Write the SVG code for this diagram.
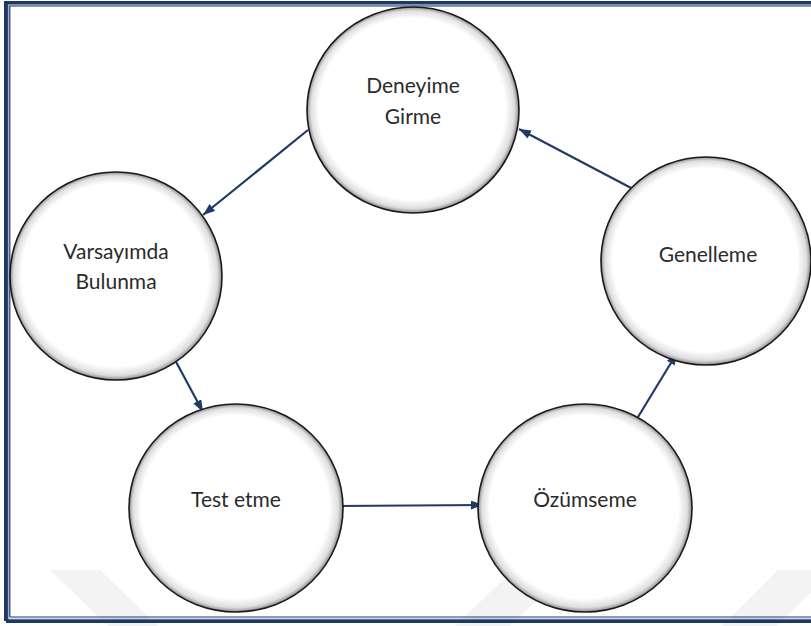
<svg xmlns="http://www.w3.org/2000/svg" width="811" height="626" viewBox="0 0 811 626">
  <style>
    .node ellipse { fill: url(#shade); stroke: #1a1a1a; stroke-width: 1.6; }
    .node text { font-family: Lato, "Open Sans", "Liberation Sans", sans-serif; font-size: 21px; fill: #2b2b2b; text-anchor: middle; }
    .conn line { stroke: #203a68; stroke-width: 2.2; fill: none; marker-end: url(#arrow); }
    .wm { fill: #f3f3f3; }
  </style>
  <defs>
    <radialGradient id="shade" cx="50%" cy="50%" r="50%" fx="46%" fy="45%">
      <stop offset="0" stop-color="#ffffff"/>
      <stop offset="0.88" stop-color="#ffffff"/>
      <stop offset="0.96" stop-color="#dedede"/>
      <stop offset="1" stop-color="#8c8c8c"/>
    </radialGradient>
    <marker id="arrow" markerUnits="userSpaceOnUse" markerWidth="13" markerHeight="10" refX="12" refY="4.5" orient="auto">
      <path d="M0,0 L12,4.5 L0,9 z" fill="#203a68"/>
    </marker>
  </defs>
  <rect width="811" height="626" fill="#ffffff"/>
  <g id="watermark">
    <polygon class="wm" points="50,570 100,570 158,626 108,626"/>
    <polygon class="wm" points="455,626 510,626 568,570 513,570"/>
    <polygon class="wm" points="722,626 777,626 833,570 778,570"/>
  </g>
  <g id="frame" fill="none">
    <path d="M6,621 V3 H815 M6,621 H815" stroke="#1f3763" stroke-width="4"/>
    <path d="M8.5,619 V4.8 H815 M8.5,619 H815" stroke="#9fb0cc" stroke-width="1.2"/>
    <path d="M9.8,617 V6 H815 M9.8,617 H815" stroke="#1f3763" stroke-width="1.2"/>
  </g>
  <g id="connectors" class="conn">
    <line x1="308" y1="130" x2="203" y2="215"/>
    <line x1="174" y1="358" x2="203" y2="412"/>
    <line x1="337" y1="506" x2="483" y2="505"/>
    <line x1="638" y1="417" x2="677" y2="353"/>
    <line x1="633" y1="189" x2="519" y2="129"/>
  </g>
  <g id="deneyime" class="node">
    <ellipse cx="413" cy="110" rx="106" ry="103"/>
    <text x="413" y="93">Deneyime</text>
    <text x="413" y="124">Girme</text>
  </g>
  <g id="varsayimda" class="node">
    <ellipse cx="116" cy="276" rx="106" ry="104"/>
    <text x="116" y="259">Varsayımda</text>
    <text x="116" y="289">Bulunma</text>
  </g>
  <g id="test" class="node">
    <ellipse cx="236" cy="508" rx="107" ry="104"/>
    <text x="236" y="507">Test etme</text>
  </g>
  <g id="ozumseme" class="node">
    <ellipse cx="585" cy="508" rx="107" ry="104"/>
    <text x="585" y="507">Özümseme</text>
  </g>
  <g id="genelleme" class="node">
    <ellipse cx="706" cy="261" rx="105" ry="104"/>
    <text x="708" y="262">Genelleme</text>
  </g>
</svg>
